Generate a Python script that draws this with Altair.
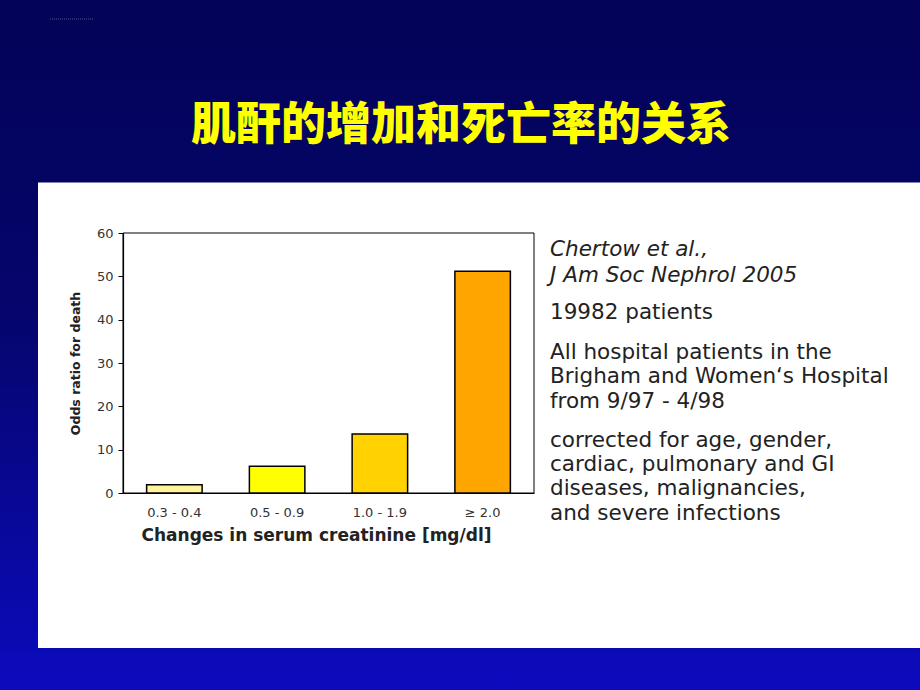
import altair as alt
import pandas as pd

# ---- data -------------------------------------------------------------
categories = ["0.3 - 0.4", "0.5 - 0.9", "1.0 - 1.9", "≥ 2.0"]
odds_ratio = [1.9, 6.2, 13.6, 51.2]
bar_colors = ["#FFF49C", "#FFFF00", "#FFD200", "#FFA500"]
y_ticks = [0, 10, 20, 30, 40, 50, 60]

slide_title = "肌酐的增加和死亡率的关系"
x_title = "Changes in serum creatinine [mg/dl]"
y_title = "Odds ratio for death"
note_ref = ["Chertow et al.,", "J Am Soc Nephrol 2005"]
note_n = ["19982 patients"]
note_pop = ["All hospital patients in the", "Brigham and Women‘s Hospital", "from 9/97 - 4/98"]
note_adj = ["corrected for age, gender,", "cardiac, pulmonary and GI",
            "diseases, malignancies,", "and severe infections"]

df = pd.DataFrame({"cat": categories, "odds": odds_ratio})

W, H = 411, 260
PL, PT = 123, 233
PR, PB = 920 - PL - W, 690 - PT - H

FONT = "DejaVu Sans"

one = pd.DataFrame({"k": [0]})

# ---- decorations (slide background, white panel) ----------------------
bg = alt.Chart(one).mark_rect(
    fill=alt.Gradient(
        gradient="linear",
        stops=[alt.GradientStop(color="#030358", offset=0),
               alt.GradientStop(color="#05056C", offset=0.45),
               alt.GradientStop(color="#0B0BBE", offset=1)],
        x1=0, x2=0, y1=0, y2=1),
    clip=False,
).encode(x=alt.value(-PL), x2=alt.value(920 - PL), y=alt.value(-PT), y2=alt.value(690 - PT))

panel = alt.Chart(one).mark_rect(fill="white", clip=False).encode(
    x=alt.value(38 - PL), x2=alt.value(920 - PL), y=alt.value(182.5 - PT), y2=alt.value(648 - PT))

dots = alt.Chart(one).mark_rule(color="#8888AA", strokeDash=[1, 1], strokeWidth=1, opacity=0.6).encode(
    x=alt.value(50 - PL), x2=alt.value(93 - PL), y=alt.value(19 - PT))

title = alt.Chart(one).mark_text(
    text=slide_title, font="Noto Sans CJK SC", fontWeight=900, fontSize=45,
    color="#FFFF00", align="center", baseline="middle",
).encode(x=alt.value(461 - PL), y=alt.value(126 - PT))

frame = alt.Chart(one).mark_rect(fillOpacity=0, stroke="black", strokeWidth=1).encode(
    x=alt.value(0), x2=alt.value(W), y=alt.value(0), y2=alt.value(H))

# ---- bars ---------------------------------------------------------------
bars = alt.Chart(df).mark_bar(stroke="black", strokeWidth=1.5).encode(
    x=alt.X("cat:N", sort=categories,
            scale=alt.Scale(paddingInner=0.46, paddingOuter=0.23),
            axis=alt.Axis(title=x_title, labelAngle=0, ticks=False, labelPadding=13,
                          labelFontSize=13, labelFont=FONT, labelColor="#333333",
                          titleFont=FONT, titleFontSize=17, titleFontWeight="bold",
                          titleColor="#222222", titleX=193, titleY=47,
                          titleAlign="center", titleBaseline="alphabetic",
                          domainColor="black", domainWidth=1.2, zindex=2)),
    y=alt.Y("odds:Q", scale=alt.Scale(domain=[0, 60], nice=False),
            axis=alt.Axis(title=y_title, values=y_ticks, tickSize=5, tickColor="black",
                          labelPadding=5, labelFontSize=13, labelFont=FONT,
                          labelColor="#333333", grid=False,
                          titleFont=FONT, titleFontSize=12.5, titleFontWeight="bold",
                          titleColor="#222222", titlePadding=14,
                          domainColor="black", domainWidth=1.2, zindex=2)),
    color=alt.Color("cat:N", sort=categories,
                    scale=alt.Scale(domain=categories, range=bar_colors), legend=None),
)

# ---- notes on the right -------------------------------------------------
TX = 550 - PL


def note(lines, y_first, lh, italic=False):
    return alt.Chart(one).mark_text(
        text=lines, font=FONT, fontSize=21.5, fontStyle="italic" if italic else "normal",
        color="#222222", align="left", baseline="alphabetic", lineHeight=lh,
    ).encode(x=alt.value(TX), y=alt.value(y_first - PT))


n1 = note(note_ref, 255.5, 26.5, italic=True)
n2 = note(note_n, 319, 24.5)
n3 = note(note_pop, 358.5, 24.5)
n4 = note(note_adj, 446.5, 24.4)

chart = alt.layer(bg, panel, dots, title, frame, bars, n1, n2, n3, n4).properties(
    width=W, height=H,
    padding={"left": PL, "top": PT, "right": PR, "bottom": PB},
    autosize=alt.AutoSizeParams(type="none"),
    background="#030358",
).configure_view(stroke=None)

chart.save("out.html", embed_options={"renderer": "svg", "actions": False})
